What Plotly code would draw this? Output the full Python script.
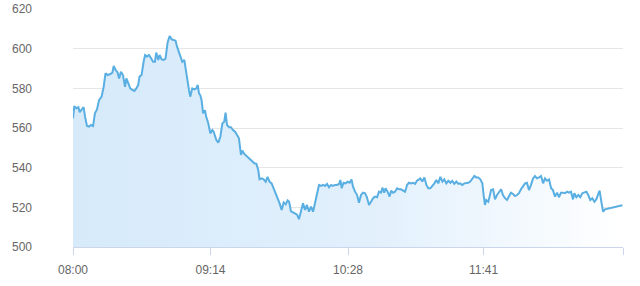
import plotly.graph_objects as go

# minutes since 08:00
minutes = [0,0.7,1.8,2.9,3.6,4.6,5.7,6.5,7.5,8.6,9.7,10.8,11.8,12.9,14,15.4,16.5,17.5,18.6,20.1,21.2,21.9,22.9,24,24.8,25.8,26.9,28,28.7,29.8,30.8,31.9,33,34.1,35.1,35.8,36.9,38,38.8,39.8,40.9,42,43.1,44.1,44.8,45.9,46.6,47.7,48.8,49.8,50.9,52,53.1,54.1,55.2,56,57.1,57.7,58.8,59.9,60.6,61.7,62.4,63.1,64.2,65.3,66.4,67.1,67.8,68.5,69.2,70,71,71.7,72.8,73.9,75,75.7,77.1,78.2,79.3,80.4,81.4,82.1,82.9,84,85,86.1,87.2,88.3,89.3,90.4,91.1,92.2,93.3,94.3,95.4,96.5,97.6,98.7,99.7,100.4,101.5,102.6,103.7,104.7,105.8,106.9,108,109,110.1,111.2,112.3,113.4,114.5,115.5,116.3,117.3,118.4,119.5,120.6,121.6,122.7,123.8,124.9,125.9,127,128.1,129.2,130.2,131.3,132.4,133.5,134.6,135.6,136.7,137.8,138.9,139.9,141,142.1,143.2,143.9,144.6,145.6,146.7,147.8,148.9,149.9,150.7,151.8,152.9,153.9,155,156.1,157.2,158.2,159.3,160.4,161.5,162.5,163.6,164.7,165.8,166.5,167.5,168.2,169.3,170.4,171.2,172.2,173.3,174.4,175.5,176.5,177.6,178.7,179.8,180.8,181.9,183,184.1,185.1,186.2,186.9,188,189.1,190.2,191.2,192.3,193.4,194.5,195.5,196.6,197.7,198.8,199.8,200.9,202,203.1,204.1,205.2,206.3,207.4,208.4,209.5,210.6,211.7,212.7,213.8,214.9,216,217,218.1,219.2,220.3,221,221.7,222.4,223.5,224.2,225,226.1,227.1,228.2,229.3,230.4,231.4,232.5,233.6,234.7,235.7,236.8,237.9,239,240,241.1,242.2,243.3,244.3,245.4,246.5,247.6,248.6,249.7,250.8,251.9,253,254,255.1,256.2,257.3,258.3,259.4,260.5,261.6,262.6,263.7,264.8,265.9,266.9,268,269.1,269.8,270.9,272,273,274.1,275.2,276.3,277.3,278.4,279.5,280.6,281.6,282.7,283.4,284.5,285.3,286.3,288.5,290.6,292.8,294.6,295.7]

values = [564.9,571,570,570.5,568,569,570.5,565.7,561,560.7,561.5,561,567.4,569.4,574,575.8,580.8,587.6,586.7,587.2,587.9,591.3,589.3,588,585,588.4,586.7,580.8,585,582.5,580,579.2,578.7,580,581.7,585.9,586.7,593.4,596.8,596,596.8,595.2,593.4,593.4,598,594.3,596.8,594.6,594.3,595,603,606.4,604.7,604.4,604,601,597.7,596,593.4,594.3,589.3,584.2,579.2,575.8,580,579.5,580,581.7,577.5,576.6,574,567.4,569,565.7,562.4,557.3,559,558.1,554,552.6,555.6,562.4,563.2,567.7,561.5,560.4,560.4,559,558.1,556.5,554.8,546.4,548.6,546.9,545.9,544.7,543.9,543,542.2,541.9,538.8,534.1,534.6,534.1,532.9,535.4,532.9,532.1,529.6,527.1,524.6,522,518.7,522.5,521.5,523.5,522.8,518,517.5,516.8,516.3,514,517.8,522,518.7,521.2,517.8,520.3,517.8,522,527.9,531.3,530.8,531.3,530.8,531.8,530.1,531.3,530.8,531.3,531.3,531.8,533.8,529.6,532.4,532.1,532.9,532.4,534.1,530.4,527.9,526.2,522.3,526.2,527.4,527.1,525.1,521.2,522.8,524.6,525.4,525.1,527.9,527.4,529.9,527.4,529.6,527.9,525.4,528.4,527.4,527.9,529.6,529.1,529.1,528.4,527.9,531.3,532.4,532.1,532.4,531.8,533.4,534.1,534.6,533,535.1,531.3,529.6,529.6,530.8,532.1,533.8,532.1,535.4,533,534.1,532.1,533.4,532.4,533.4,531.8,533,531.8,532.1,531.3,532.1,532.1,532.4,533,534.6,535.8,535.1,535.1,534.1,532.1,526.2,521.2,523.7,522.8,525.4,528.7,529.1,524,526.2,527.9,529.1,526.2,524.6,523.7,525.7,527.4,526.7,525.7,526.2,527.1,529.1,530.4,532.1,532.4,528.7,531.3,534.6,535.8,534.6,535.1,535.8,532.1,534.6,533.4,534.1,529.6,528.7,525.4,527.4,525.1,527.4,527.4,527.1,527.9,527.4,527.9,524,527.1,525.1,526.2,525.1,527.1,527.4,527.9,526.2,523.7,524.6,522.8,524,526.2,528.4,522,517.8,519,519.5,519.8,520.3,520.8,521]

tick_minutes = [0, 74, 148, 221, 296]
tick_labels = ["08:00", "09:14", "10:28", "11:41", ""]
y_ticks = [500, 520, 540, 560, 580, 600, 620]

fig = go.Figure()
fig.add_trace(go.Scatter(
    x=minutes, y=values, mode="lines",
    line=dict(color="#5aafe2", width=2),
    fill="tozeroy",
    fillgradient=dict(type="horizontal",
                      colorscale=[[0, "rgba(214,234,250,1)"], [0.55, "rgba(226,240,252,1)"], [1, "rgba(255,255,255,1)"]]),
    hoverinfo="skip",
))

fig.update_layout(
    width=640, height=286,
    margin=dict(l=73, r=17, t=9, b=39),
    paper_bgcolor="white", plot_bgcolor="white",
    showlegend=False,
    font=dict(family="Liberation Sans, Arial, sans-serif", size=12, color="#666666"),
    xaxis=dict(
        range=[0, 296], tickmode="array", tickvals=tick_minutes, ticktext=tick_labels,
        showgrid=False, zeroline=False, automargin=False,
        showline=True, linecolor="#ccd6eb", linewidth=1,
        ticks="outside", ticklen=7, tickcolor="#ccd6eb", tickwidth=1,
        ticklabelstandoff=5,
        tickfont=dict(size=12, color="#666666"),
    ),
    yaxis=dict(
        range=[500, 620], tickmode="array", tickvals=y_ticks,
        showgrid=True, gridcolor="#e6e6e6", gridwidth=1, zeroline=False,
        showline=False, ticks="", ticklabelstandoff=40, automargin=False,
        tickfont=dict(size=12, color="#666666"),
    ),
)

fig.write_html("out.html")
